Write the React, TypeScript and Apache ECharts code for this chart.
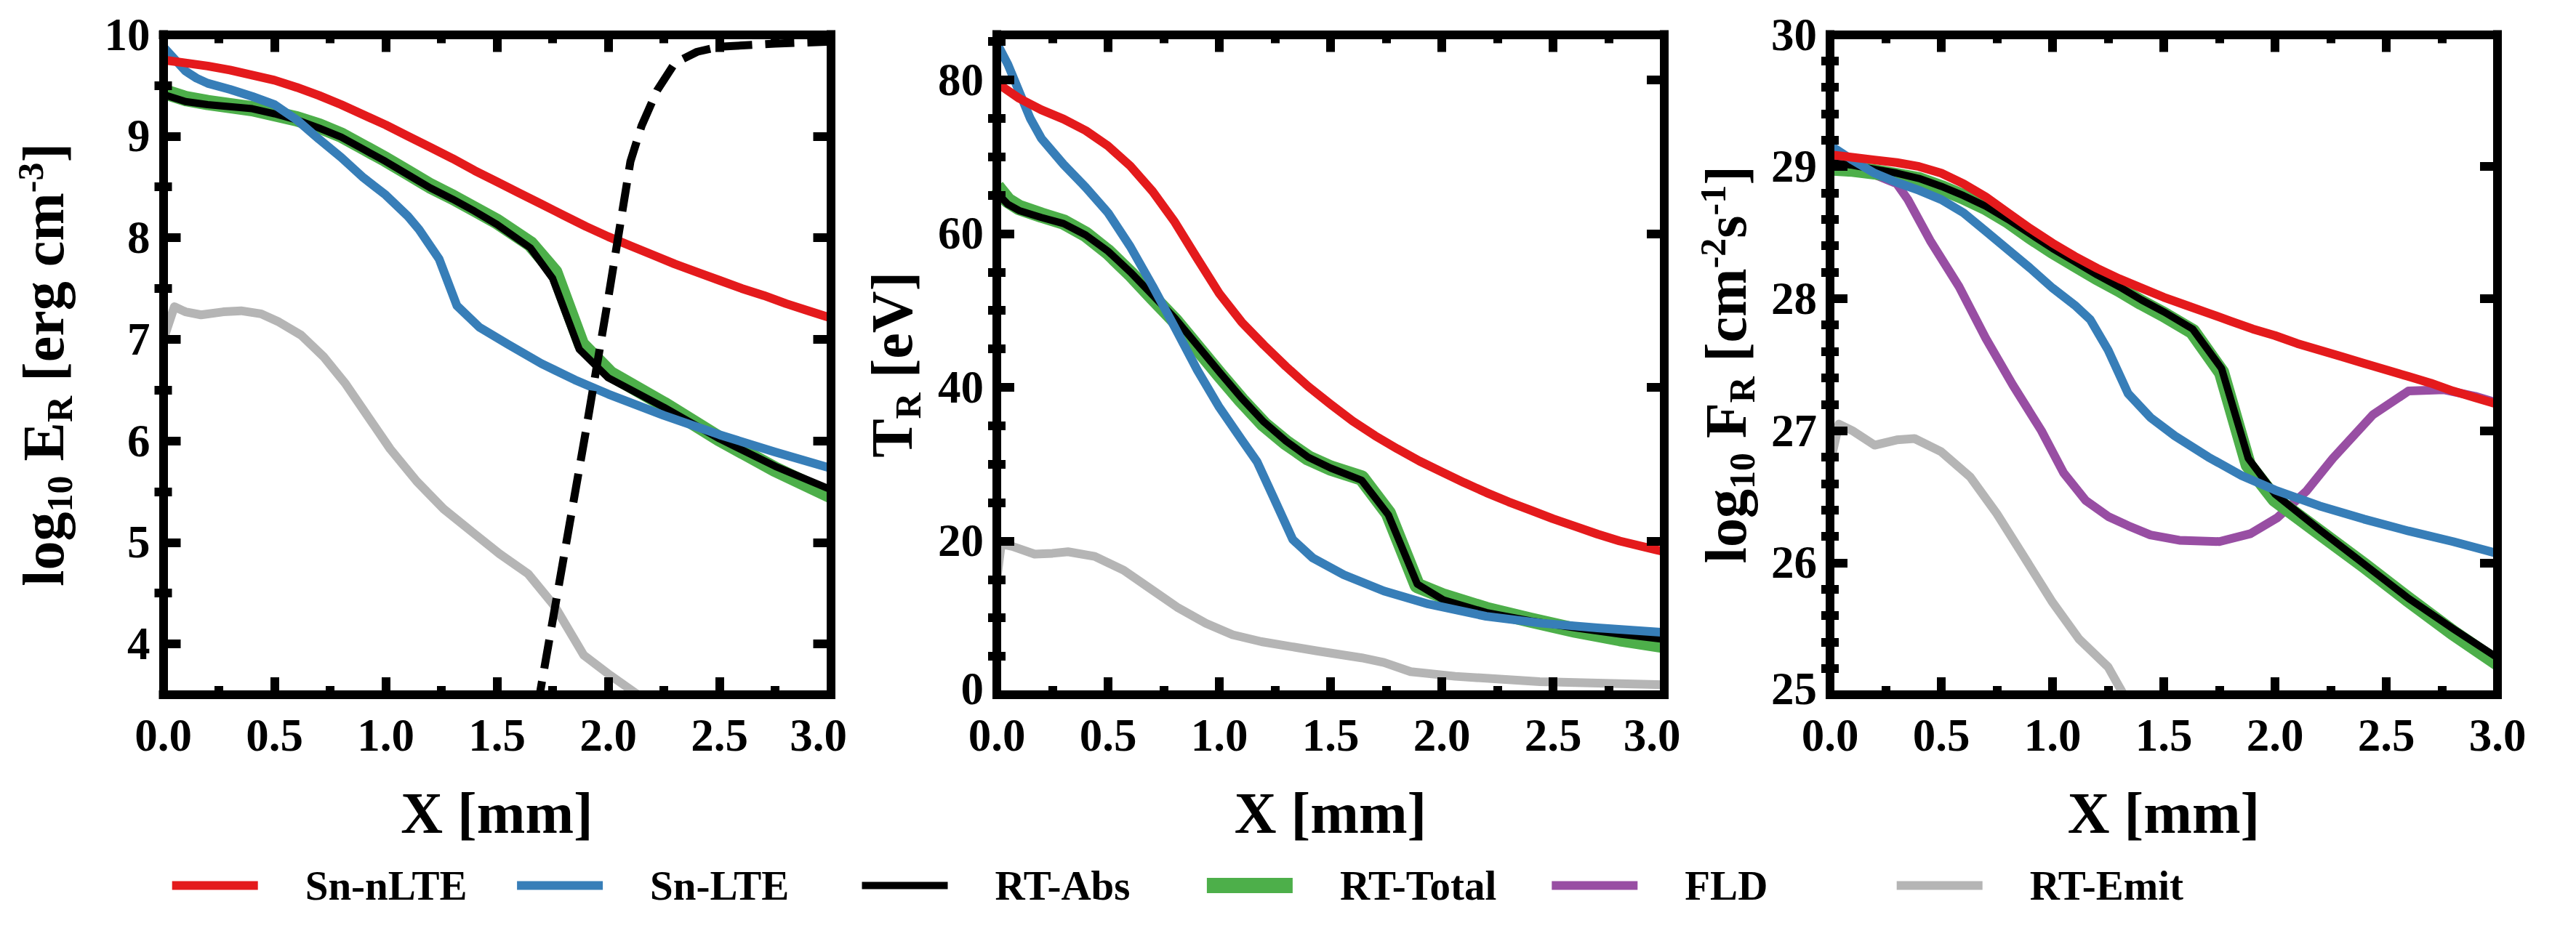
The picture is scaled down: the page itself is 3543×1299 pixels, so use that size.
import { useEffect, useRef } from 'react';
import * as echarts from 'echarts';

const FONT = 'Liberation Serif, Times New Roman, Times, serif';

// ---------- data ----------
const X_STEP = [0, 0.1, 0.2, 0.3, 0.4, 0.5, 0.6, 0.7, 0.8, 0.9, 1.0, 1.1, 1.2, 1.3, 1.4, 1.5,
  1.6, 1.7, 1.8, 1.9, 2.0, 2.1, 2.2, 2.3, 2.4, 2.5, 2.6, 2.7, 2.8, 2.9, 3.0];

// Panel 1: log10 E_R [erg cm^-3]
const E_NLTE = [9.75, 9.72, 9.69, 9.65, 9.60, 9.55, 9.48, 9.40, 9.31, 9.21, 9.11, 9.00, 8.89, 8.78,
  8.66, 8.55, 8.44, 8.33, 8.22, 8.11, 8.01, 7.92, 7.83, 7.74, 7.66, 7.58, 7.50, 7.43, 7.35, 7.28, 7.21];
const E_LTE = [[0, 9.88], [0.05, 9.76], [0.1, 9.64], [0.15, 9.57], [0.2, 9.52], [0.3, 9.46], [0.4, 9.39],
  [0.5, 9.31], [0.6, 9.16], [0.7, 8.97], [0.8, 8.79], [0.9, 8.59], [1.0, 8.42], [1.1, 8.21], [1.15, 8.08],
  [1.24, 7.79], [1.32, 7.33], [1.42, 7.12], [1.55, 6.95], [1.7, 6.76], [1.85, 6.60], [2.0, 6.46],
  [2.25, 6.25], [2.5, 6.06], [2.75, 5.89], [3.0, 5.73]];
const E_ABS = [[0, 9.41], [0.1, 9.34], [0.2, 9.31], [0.3, 9.29], [0.4, 9.27], [0.5, 9.22], [0.6, 9.16],
  [0.7, 9.08], [0.8, 8.99], [0.9, 8.87], [1.0, 8.75], [1.1, 8.62], [1.2, 8.49], [1.3, 8.38], [1.4, 8.26],
  [1.5, 8.13], [1.65, 7.90], [1.75, 7.60], [1.87, 6.90], [2.0, 6.62], [2.25, 6.33], [2.5, 6.02],
  [2.75, 5.75], [3.0, 5.52]];
const E_TOTAL = [[0, 9.44], [0.1, 9.37], [0.2, 9.33], [0.3, 9.30], [0.4, 9.27], [0.5, 9.22], [0.6, 9.17],
  [0.7, 9.10], [0.8, 9.01], [0.9, 8.89], [1.0, 8.77], [1.1, 8.64], [1.2, 8.51], [1.3, 8.40], [1.4, 8.28],
  [1.5, 8.16], [1.65, 7.94], [1.76, 7.66], [1.88, 6.95], [2.01, 6.66], [2.25, 6.36], [2.5, 6.02],
  [2.75, 5.72], [3.0, 5.46]];
const E_EMIT = [[0, 6.99], [0.05, 7.32], [0.1, 7.27], [0.17, 7.24], [0.27, 7.27], [0.35, 7.28], [0.44, 7.25],
  [0.52, 7.17], [0.62, 7.04], [0.72, 6.83], [0.82, 6.56], [0.92, 6.24], [1.02, 5.92], [1.14, 5.60],
  [1.26, 5.33], [1.39, 5.10], [1.51, 4.89], [1.64, 4.69], [1.76, 4.37], [1.89, 3.89], [2.01, 3.69],
  [2.12, 3.52], [2.25, 3.35]];
const E_DASHED = [[1.68, 3.35], [1.80, 4.85], [1.90, 6.10], [2.00, 7.40], [2.10, 8.75], [2.15, 9.10],
  [2.22, 9.45], [2.30, 9.72], [2.40, 9.83], [2.50, 9.88], [2.75, 9.91], [3.0, 9.93]];

// Panel 2: T_R [eV]
const T_NLTE = [79.6, 77.6, 76.1, 74.9, 73.4, 71.4, 68.8, 65.5, 61.5, 56.8, 52.2, 48.5, 45.5, 42.7, 40.1,
  37.8, 35.6, 33.7, 32.0, 30.4, 29.0, 27.6, 26.3, 25.1, 24.0, 22.9, 21.9, 20.9, 20.0, 19.3, 18.6];
const T_LTE = [[0, 84.8], [0.05, 82.0], [0.1, 78.5], [0.15, 75.0], [0.2, 72.4], [0.3, 69.0], [0.4, 66.0],
  [0.5, 62.7], [0.6, 58.3], [0.7, 53.2], [0.8, 47.8], [0.9, 42.3], [1.0, 37.4], [1.1, 33.2], [1.17, 30.3],
  [1.24, 25.9], [1.33, 20.2], [1.42, 17.8], [1.56, 15.6], [1.74, 13.5], [1.94, 11.8], [2.2, 10.2],
  [2.45, 9.3], [2.7, 8.7], [3.0, 8.1]];
const T_ABS = [[0, 65.3], [0.05, 63.8], [0.1, 63.0], [0.2, 62.1], [0.3, 61.3], [0.4, 59.8], [0.5, 57.7],
  [0.6, 55.0], [0.7, 52.0], [0.8, 49.0], [0.9, 45.5], [1.0, 42.0], [1.1, 38.6], [1.2, 35.5], [1.3, 33.0],
  [1.4, 30.9], [1.5, 29.5], [1.64, 27.9], [1.76, 23.4], [1.89, 14.4], [2.01, 12.3], [2.2, 10.7],
  [2.4, 9.6], [2.6, 8.7], [2.8, 7.9], [3.0, 7.2]];
const T_TOTAL = [[0, 66.1], [0.05, 64.3], [0.1, 63.4], [0.2, 62.4], [0.3, 61.5], [0.4, 59.9], [0.5, 57.6],
  [0.6, 54.8], [0.7, 51.7], [0.8, 48.7], [0.9, 45.2], [1.0, 41.7], [1.1, 38.3], [1.2, 35.2], [1.3, 32.8],
  [1.4, 30.8], [1.5, 29.5], [1.64, 28.2], [1.76, 23.6], [1.89, 14.2], [2.01, 12.8], [2.2, 11.1],
  [2.4, 9.7], [2.6, 8.4], [2.8, 7.3], [3.0, 6.4]];
const T_EMIT = [[0, 15.0], [0.02, 19.6], [0.07, 19.3], [0.17, 18.3], [0.25, 18.4], [0.32, 18.6],
  [0.44, 18.0], [0.57, 16.2], [0.69, 13.8], [0.81, 11.4], [0.94, 9.3], [1.06, 7.8], [1.19, 6.9],
  [1.44, 5.7], [1.64, 4.8], [1.74, 4.2], [1.86, 3.0], [2.06, 2.4], [2.44, 1.7], [3.0, 1.3]];

// Panel 3: log10 F_R [cm^-2 s^-1]
const F_NLTE = [29.09, 29.07, 29.05, 29.03, 29.00, 28.95, 28.87, 28.77, 28.65, 28.53, 28.42, 28.32, 28.23,
  28.15, 28.08, 28.01, 27.95, 27.89, 27.83, 27.77, 27.72, 27.66, 27.61, 27.56, 27.51, 27.46, 27.41,
  27.36, 27.30, 27.25, 27.20];
const F_LTE = [[0, 29.16], [0.1, 29.05], [0.2, 28.95], [0.3, 28.88], [0.4, 28.82], [0.5, 28.75], [0.6, 28.65],
  [0.7, 28.51], [0.8, 28.37], [0.9, 28.23], [1.0, 28.08], [1.1, 27.95], [1.17, 27.84], [1.25, 27.61],
  [1.34, 27.28], [1.44, 27.10], [1.55, 26.96], [1.7, 26.80], [1.85, 26.66], [2.0, 26.55], [2.2, 26.43],
  [2.4, 26.33], [2.6, 26.24], [2.8, 26.16], [3.0, 26.07]];
const F_ABS = [[0, 29.03], [0.1, 29.01], [0.2, 28.98], [0.3, 28.95], [0.4, 28.91], [0.5, 28.85], [0.6, 28.78],
  [0.7, 28.70], [0.8, 28.60], [0.9, 28.49], [1.0, 28.38], [1.1, 28.28], [1.2, 28.18], [1.3, 28.09],
  [1.4, 27.99], [1.5, 27.90], [1.63, 27.77], [1.76, 27.47], [1.88, 26.79], [2.0, 26.52], [2.2, 26.25],
  [2.4, 25.99], [2.6, 25.73], [2.8, 25.50], [3.0, 25.28]];
const F_TOTAL = [[0, 28.99], [0.1, 28.98], [0.2, 28.96], [0.3, 28.93], [0.4, 28.90], [0.5, 28.84],
  [0.6, 28.77], [0.7, 28.69], [0.8, 28.59], [0.9, 28.47], [1.0, 28.36], [1.1, 28.26], [1.2, 28.16],
  [1.3, 28.07], [1.4, 27.97], [1.5, 27.88], [1.63, 27.75], [1.76, 27.44], [1.88, 26.74], [2.0, 26.48],
  [2.2, 26.23], [2.4, 25.98], [2.6, 25.72], [2.8, 25.47], [3.0, 25.24]];
const F_FLD = [[0, 29.10], [0.1, 29.02], [0.2, 28.94], [0.3, 28.87], [0.35, 28.75], [0.45, 28.44],
  [0.58, 28.09], [0.70, 27.70], [0.82, 27.35], [0.95, 27.00], [1.05, 26.68], [1.15, 26.47], [1.25, 26.35],
  [1.34, 26.28], [1.44, 26.21], [1.57, 26.17], [1.75, 26.16], [1.89, 26.22], [2.01, 26.34], [2.14, 26.54],
  [2.26, 26.79], [2.44, 27.12], [2.60, 27.30], [2.76, 27.31], [2.9, 27.26], [3.0, 27.21]];
const F_EMIT = [[0, 26.75], [0.04, 27.05], [0.1, 27.0], [0.2, 26.89], [0.3, 26.93], [0.38, 26.94],
  [0.5, 26.84], [0.63, 26.65], [0.75, 26.37], [0.87, 26.05], [1.0, 25.70], [1.12, 25.42], [1.25, 25.21],
  [1.32, 25.0], [1.45, 24.7]];

// axis ranges and ticks
const E_RANGE = [3.5, 10];
const E_MAJOR = [4, 5, 6, 7, 8, 9, 10];
const E_MINOR = [4.5, 5.5, 6.5, 7.5, 8.5, 9.5];
const T_RANGE = [0, 85.9];
const T_MAJOR = [0, 20, 40, 60, 80];
const T_MINOR = [5, 10, 15, 25, 30, 35, 45, 50, 55, 65, 70, 75, 85];
const F_RANGE = [25, 30];
const F_MAJOR = [25, 26, 27, 28, 29, 30];
const F_MINOR = [25.2, 25.4, 25.6, 25.8, 26.2, 26.4, 26.6, 26.8, 27.2, 27.4, 27.6, 27.8,
  28.2, 28.4, 28.6, 28.8, 29.2, 29.4, 29.6, 29.8];

const LEGEND_NAMES = ['Sn-nLTE', 'Sn-LTE', 'RT-Abs', 'RT-Total', 'FLD', 'RT-Emit'];

// ---------- styling ----------
const COLOR = {
  nlte: '#e41a1c',
  lte: '#377eb8',
  abs: '#000000',
  total: '#4daf4a',
  fld: '#984ea3',
  emit: '#b5b5b5',
};
const LEGEND_THICK = [12, 12, 10, 21, 12, 12];
const LEGEND_COLORS = [COLOR.nlte, COLOR.lte, COLOR.abs, COLOR.total, COLOR.fld, COLOR.emit];

const GRID_LEFT = [224.5, 1371, 2517];
const GRID_TOP = 47.5;
const GRID_W = 918;
const GRID_H = 908.5;

const FRAME = { color: '#000', width: 12, cap: 'square' };
const TICK = { color: '#000', width: 12 };

const NAME_RICH = {
  m: { fontFamily: FONT, fontWeight: 'bold', fontSize: 80, lineHeight: 80, color: '#000' },
  sub: { fontFamily: FONT, fontWeight: 'bold', fontSize: 50, lineHeight: 40, padding: [44, 0, 0, 0], color: '#000' },
  sup: { fontFamily: FONT, fontWeight: 'bold', fontSize: 50, lineHeight: 40, padding: [0, 0, 36, 0], color: '#000' },
};

const X_LABEL_FONT = { fontFamily: FONT, fontWeight: 'bold', fontSize: 63, lineHeight: 48, color: '#000' };
const Y_LABEL_FONT = { fontFamily: FONT, fontWeight: 'bold', fontSize: 63, lineHeight: 44, color: '#000' };

function zip(xs: number[], ys: number[]) {
  return xs.map((x, i) => [x, ys[i]]);
}

function xAxisPair(grid: number, shiftLast: boolean) {
  const base = {
    type: 'value', gridIndex: grid, min: 0, max: 3, interval: 0.5, z: 10,
    axisLine: { show: true, onZero: false, lineStyle: FRAME },
    axisTick: { show: true, inside: true, length: 24, lineStyle: TICK },
    minorTick: { show: true, splitNumber: 2, length: 12, lineStyle: TICK },
    splitLine: { show: false },
    minorSplitLine: { show: false },
  };
  return [
    {
      ...base,
      position: 'bottom',
      axisLabel: {
        show: true, margin: 32, ...X_LABEL_FONT,
        formatter: (v: number) => (shiftLast && Math.abs(v - 3) < 1e-9 ? '{s|3.0}' : '{n|' + v.toFixed(1) + '}'),
        rich: {
          n: { ...X_LABEL_FONT },
          s: { ...X_LABEL_FONT, padding: [0, 34, 0, 0] },
        },
      },
      name: 'X [mm]',
      nameLocation: 'middle',
      nameGap: 123,
      nameMoveOverlap: false,
      nameTextStyle: { fontFamily: FONT, fontWeight: 'bold', fontSize: 80, lineHeight: 80, color: '#000' },
    },
    { ...base, position: 'top', axisLabel: { show: false } },
  ];
}

function yAxisSet(grid: number, range: number[], majors: number[], minors: number[], name: string, nameGap: number) {
  const base = { type: 'value', gridIndex: grid, min: range[0], max: range[1], z: 10, splitLine: { show: false } };
  const frame = { show: true, onZero: false, lineStyle: FRAME };
  const majorTick = { show: true, inside: true, length: 24, customValues: majors, lineStyle: TICK };
  const minorTick = { show: true, inside: true, length: 12, customValues: minors, lineStyle: TICK };
  return [
    {
      ...base, position: 'left', axisLine: frame, axisTick: majorTick,
      axisLabel: {
        show: true, customValues: majors, margin: 18, ...Y_LABEL_FONT,
        // the lowest label sits a little higher so it clears the first x label
        formatter: (v: number) => (v === range[0] ? '{b|' + String(v) + '}' : '{n|' + String(v) + '}'),
        rich: {
          n: { ...Y_LABEL_FONT },
          b: { ...Y_LABEL_FONT, padding: [0, 0, 16, 0] },
        },
      },
      name, nameLocation: 'middle', nameRotate: 90, nameGap, nameMoveOverlap: false,
      nameTextStyle: { fontFamily: FONT, fontWeight: 'bold', fontSize: 80, color: '#000', rich: NAME_RICH },
    },
    { ...base, position: 'right', axisLine: frame, axisTick: majorTick, axisLabel: { show: false } },
    { ...base, position: 'left', axisLine: { show: false }, axisTick: minorTick, axisLabel: { show: false } },
    { ...base, position: 'right', axisLine: { show: false }, axisTick: minorTick, axisLabel: { show: false } },
  ];
}

function line(name: string, grid: number, data: number[][], color: string, width: number, dash?: number[]) {
  return {
    type: 'line', name, xAxisIndex: grid * 2, yAxisIndex: grid * 4, data, color,
    showSymbol: false, symbol: 'none', clip: true, silent: true, z: 2,
    itemStyle: { color },
    lineStyle: { color, width, join: 'round', cap: 'butt', type: dash || 'solid' },
    emphasis: { disabled: true },
  };
}

function panelSeries(grid: number, nlte: number[][], lte: number[][], abs: number[][], total: number[][],
  emit: number[][], fld?: number[][]) {
  const out: any[] = [line('RT-Emit', grid, emit, COLOR.emit, 12)];
  if (fld) out.push(line('FLD', grid, fld, COLOR.fld, 12));
  out.push(line('RT-Total', grid, total, COLOR.total, 21));
  out.push(line('RT-Abs', grid, abs, COLOR.abs, 10));
  out.push(line('Sn-LTE', grid, lte, COLOR.lte, 12));
  out.push(line('Sn-nLTE', grid, nlte, COLOR.nlte, 12));
  return out;
}

export default function App() {
  const ref = useRef<HTMLDivElement>(null);

  useEffect(() => {
    document.body.style.margin = '0';
    document.body.style.overflow = 'hidden';
    const chart = echarts.init(ref.current as HTMLDivElement, null, { renderer: 'svg' });

    const grids = GRID_LEFT.map((left) => ({
      left, top: GRID_TOP, width: GRID_W, height: GRID_H,
      containLabel: false, outerBoundsMode: 'none', show: false,
    }));

    const xAxis = [...xAxisPair(0, true), ...xAxisPair(1, true), ...xAxisPair(2, false)];
    const yAxis = [
      ...yAxisSet(0, E_RANGE, E_MAJOR, E_MINOR, '{m|log}{sub|10}{m| E}{sub|R}{m| [erg cm}{sup|-3}{m|]}', 125),
      ...yAxisSet(1, T_RANGE, T_MAJOR, T_MINOR, '{m|T}{sub|R}{m| [eV]}', 104),
      ...yAxisSet(2, F_RANGE, F_MAJOR, F_MINOR, '{m|log}{sub|10}{m| F}{sub|R}{m| [cm}{sup|-2}{m|s}{sup|-1}{m|]}', 103),
    ];

    const series = [
      ...panelSeries(0, zip(X_STEP, E_NLTE), E_LTE, E_ABS, E_TOTAL, E_EMIT),
      { ...line('boundary', 0, E_DASHED, '#000', 11, [40, 18]) },
      ...panelSeries(1, zip(X_STEP, T_NLTE), T_LTE, T_ABS, T_TOTAL, T_EMIT),
      ...panelSeries(2, zip(X_STEP, F_NLTE), F_LTE, F_ABS, F_TOTAL, F_EMIT, F_FLD),
    ];

    const legend = LEGEND_NAMES.map((name, i) => ({
      data: [name],
      left: 236.7 + 474.4 * i,
      top: 1188.5,
      orient: 'horizontal',
      padding: 0,
      icon: 'rect',
      itemWidth: 118,
      itemHeight: LEGEND_THICK[i],
      itemStyle: { color: LEGEND_COLORS[i], borderWidth: 0 },
      selectedMode: false,
      formatter: (n: string) => '{t|' + n + '}',
      textStyle: {
        fontFamily: FONT, fontWeight: 'bold', fontSize: 57, lineHeight: 60, color: '#000',
        rich: {
          t: { fontFamily: FONT, fontWeight: 'bold', fontSize: 57, lineHeight: 60, color: '#000', padding: [0, 0, 0, 60] },
        },
      },
    }));

    chart.setOption({
      animation: false,
      backgroundColor: '#ffffff',
      textStyle: { fontFamily: FONT, fontWeight: 'bold' },
      grid: grids,
      xAxis,
      yAxis,
      legend,
      series,
    } as any);

    return () => chart.dispose();
  }, []);

  return <div ref={ref} style={{ width: 3543, height: 1299, background: '#fff' }} />;
}
